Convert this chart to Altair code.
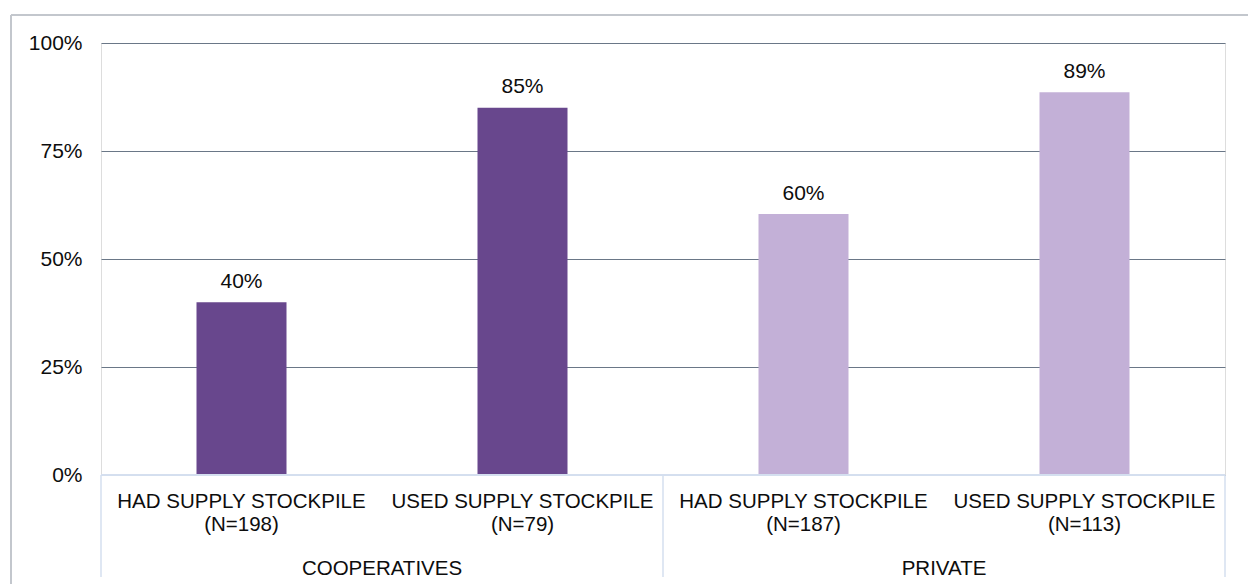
import altair as alt
import pandas as pd

# Survey results: share of providers with / using a supply stockpile
groups = ["COOPERATIVES", "COOPERATIVES", "PRIVATE", "PRIVATE"]
measures = ["HAD SUPPLY STOCKPILE", "USED SUPPLY STOCKPILE",
            "HAD SUPPLY STOCKPILE", "USED SUPPLY STOCKPILE"]
sample_sizes = [198, 79, 187, 113]
shares = [0.40, 0.85, 0.604, 0.886]

group_colors = {"COOPERATIVES": "#68478D", "PRIVATE": "#C3B0D7"}
FONT = "Liberation Sans"
FS = 21
CAT_FS = 20.5
TEXT = "#0D0D0D"
AXIS_BLUE = "#D5DFEF"

keys = [f"{g} / {m}" for g, m in zip(groups, measures)]
bars = pd.DataFrame({
    "key": keys,
    "group": groups,
    "measure": measures,
    "n": sample_sizes,
    "share": shares,
})

group_names = list(dict.fromkeys(groups))
group_df = pd.DataFrame({
    "group": group_names,
    "first_key": [keys[groups.index(g)] for g in group_names],
})

W, H = 1124, 432
x_scale = alt.Scale(domain=keys, paddingInner=0, paddingOuter=0)
y_scale = alt.Scale(domain=[0, 1], nice=False)

base = alt.Chart(bars)

bar_layer = base.mark_bar(size=90).encode(
    x=alt.X("key:N", scale=x_scale, axis=None, sort=keys),
    y=alt.Y("share:Q", scale=y_scale,
            axis=alt.Axis(values=[0, 0.25, 0.5, 0.75, 1], format=".0%",
                          title=None, ticks=False, domain=False,
                          labelFont=FONT, labelFontSize=FS, labelColor=TEXT,
                          labelPadding=19, grid=True, gridColor="#6A7787",
                          gridWidth=1)),
    color=alt.Color("group:N", legend=None,
                    scale=alt.Scale(domain=list(group_colors),
                                    range=list(group_colors.values()))),
)

value_labels = base.mark_text(font=FONT, fontSize=FS, color=TEXT,
                              baseline="alphabetic", dy=-14.5).encode(
    x=alt.X("key:N", scale=x_scale, sort=keys),
    y=alt.Y("share:Q", scale=y_scale),
    text=alt.Text("share:Q", format=".0%"),
)

# two-line category labels: measure name over sample size
category_labels = base.transform_calculate(
    lines="[datum.measure, '(N=' + datum.n + ')']"
).mark_text(font=FONT, fontSize=CAT_FS, color=TEXT, baseline="alphabetic",
            lineHeight=23).encode(
    x=alt.X("key:N", scale=x_scale, sort=keys),
    y=alt.value(H + 32.5),
    text="lines:N",
)

group_labels = alt.Chart(group_df).mark_text(
    font=FONT, fontSize=CAT_FS, color=TEXT, baseline="alphabetic").encode(
    x=alt.X("first_key:N", scale=x_scale, sort=keys, bandPosition=1),
    y=alt.value(H + 100),
    text="group:N",
)

# category-axis baseline and group separators
axis_line = base.mark_rule(color=AXIS_BLUE, strokeWidth=1.5).encode(
    x=alt.value(0), x2=alt.value(W), y=alt.datum(0),
)

sep_start = alt.Chart(group_df).mark_rule(color=AXIS_BLUE, strokeWidth=1.5).encode(
    x=alt.X("first_key:N", scale=x_scale, sort=keys, bandPosition=0),
    y=alt.value(H), y2=alt.value(H + 102),
)
sep_end = alt.Chart(pd.DataFrame({"key": [keys[-1]]})).mark_rule(
    color=AXIS_BLUE, strokeWidth=1.5).encode(
    x=alt.X("key:N", scale=x_scale, sort=keys, bandPosition=1),
    y=alt.value(H), y2=alt.value(H + 102),
)

# outer chart frame
frame_top = base.mark_rule(color="#C3C7CC", strokeWidth=1.5).encode(
    x=alt.value(-90), x2=alt.value(W + 40), y=alt.value(-28),
)
frame_left = base.mark_rule(color="#C3C7CC", strokeWidth=1.5).encode(
    x=alt.value(-90), y=alt.value(-28), y2=alt.value(H + 120),
)

chart = alt.layer(
    frame_top, frame_left, bar_layer, axis_line, sep_start, sep_end,
    value_labels, category_labels, group_labels,
).properties(
    width=W, height=H,
    autosize=alt.AutoSizeParams(type="none"),
    padding={"left": 101, "top": 43, "right": 23, "bottom": 109},
).configure_view(stroke=None).configure(background="white")

chart.save("out.html", embed_options={"renderer": "svg", "actions": False})
